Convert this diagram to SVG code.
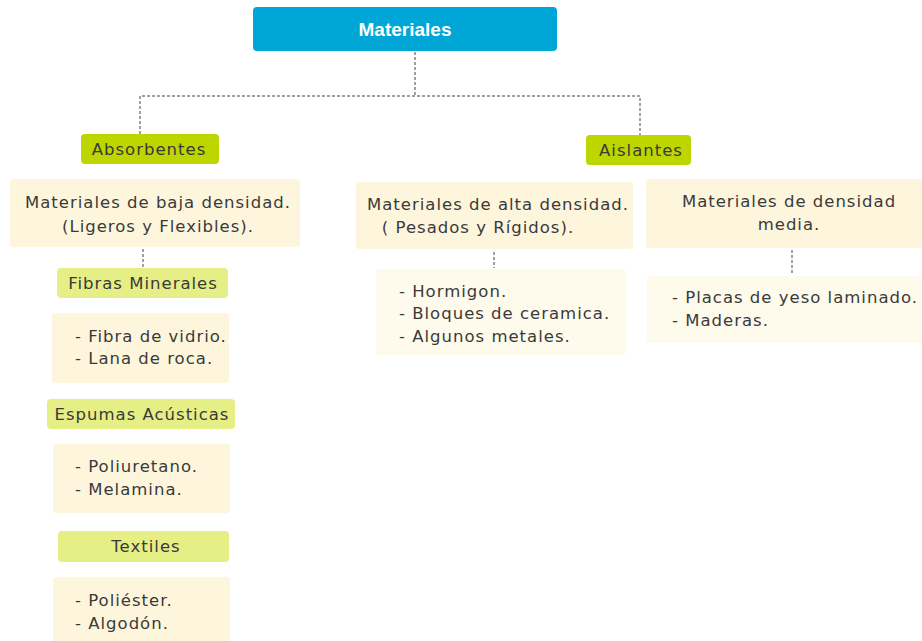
<svg xmlns="http://www.w3.org/2000/svg" width="922" height="641" viewBox="0 0 922 641">
<style>
text{font-family:"DejaVu Sans","Liberation Sans",sans-serif;fill:#3a3a3a;font-size:16.5px;letter-spacing:1px}
.root{fill:#00a6d6}
.cat{fill:#bdd600}
.sub{fill:#e6ee86}
.desc{fill:#fdf6dc}
.leaf{fill:#fefaec}
.c{text-anchor:middle}
.conn{fill:none;stroke:#a0a0a0;stroke-width:2;stroke-dasharray:3 2}
</style>
<rect width="922" height="641" fill="#fff"/>
<g id="connectors">
<path class="conn" d="M415 52V96M140 134V96H640V135"/>
<path class="conn" d="M143 249V268"/>
<path class="conn" d="M494 252V268"/>
<path class="conn" d="M792 250V275"/>
</g>
<g id="materiales">
<rect class="root" x="253" y="7" width="304" height="44" rx="4"/>
<text x="405" y="36" class="c" style="fill:#fff;font-size:19px;font-weight:bold;letter-spacing:0;font-family:'Liberation Sans',sans-serif">Materiales</text>
</g>
<g id="absorbentes">
<rect class="cat" x="81" y="134" width="138" height="30" rx="4"/>
<text x="149" y="155" class="c">Absorbentes</text>
</g>
<g id="aislantes">
<rect class="cat" x="586" y="135" width="105" height="30" rx="4"/>
<text x="641" y="156" class="c">Aislantes</text>
</g>
<g id="baja">
<rect class="desc" x="10" y="179" width="290" height="68" rx="3"/>
<text x="158" y="208" class="c">Materiales de baja densidad.</text>
<text x="158" y="232" class="c">(Ligeros y Flexibles).</text>
</g>
<g id="alta">
<rect class="desc" x="356" y="182" width="277" height="67" rx="3"/>
<text x="498" y="210" class="c">Materiales de alta densidad.</text>
<text x="478" y="233" class="c">( Pesados y Rígidos).</text>
</g>
<g id="media">
<rect class="desc" x="646" y="179" width="276" height="69" rx="3"/>
<text x="789" y="207" class="c">Materiales de densidad</text>
<text x="789" y="230" class="c">media.</text>
</g>
<g id="fibras">
<rect class="sub" x="57" y="268" width="171" height="30" rx="4"/>
<text x="143" y="289" class="c">Fibras Minerales</text>
</g>
<g id="fibras-items">
<rect class="desc" x="52" y="313" width="177" height="70" rx="3"/>
<text x="75" y="342">- Fibra de vidrio.</text>
<text x="75" y="364">- Lana de roca.</text>
</g>
<g id="espumas">
<rect class="sub" x="47" y="399" width="188" height="30" rx="4"/>
<text x="142" y="420" class="c">Espumas Acústicas</text>
</g>
<g id="espumas-items">
<rect class="desc" x="53" y="444" width="177" height="69" rx="3"/>
<text x="75" y="472">- Poliuretano.</text>
<text x="75" y="495">- Melamina.</text>
</g>
<g id="textiles">
<rect class="sub" x="58" y="531" width="171" height="31" rx="4"/>
<text x="146" y="552" class="c">Textiles</text>
</g>
<g id="textiles-items">
<rect class="desc" x="53" y="577" width="177" height="70" rx="3"/>
<text x="75" y="606">- Poliéster.</text>
<text x="75" y="629">- Algodón.</text>
</g>
<g id="alta-items">
<rect class="leaf" x="376" y="269" width="250" height="86" rx="3"/>
<text x="399" y="297">- Hormigon.</text>
<text x="399" y="319">- Bloques de ceramica.</text>
<text x="399" y="342">- Algunos metales.</text>
</g>
<g id="media-items">
<rect class="leaf" x="647" y="276" width="274" height="67" rx="3"/>
<text x="672" y="303">- Placas de yeso laminado.</text>
<text x="672" y="326">- Maderas.</text>
</g>
</svg>
